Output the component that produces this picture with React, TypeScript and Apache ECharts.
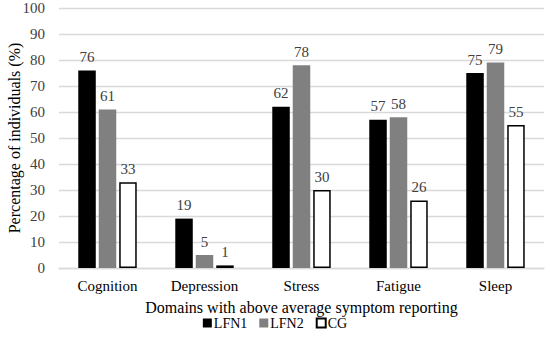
import React, { useEffect, useRef } from "react";
import * as echarts from "echarts";

const categories = ["Cognition", "Depression", "Stress", "Fatigue", "Sleep"];
const lfn1 = [76, 19, 62, 57, 75];
const lfn2 = [61, 5, 78, 58, 79];
const cg = [33, 1, 30, 26, 55];
const yTicks = { min: 0, max: 100, interval: 10 };

const FONT = "Liberation Serif, Times New Roman, serif";

export default function App() {
  const ref = useRef<HTMLDivElement>(null);
  useEffect(() => {
    if (!ref.current) return;
    const chart = echarts.init(ref.current, null, { renderer: "svg" });
    const label = {
      show: true,
      position: "top" as const,
      distance: 6,
      color: "#404040",
      fontFamily: FONT,
      fontSize: 15,
    };
    chart.setOption({
      animation: false,
      textStyle: { fontFamily: FONT },
      grid: { left: 59, right: 6, top: 8, bottom: 74, containLabel: false, outerBoundsMode: "none" },
      legend: {
        bottom: 7,
        left: "center",
        itemWidth: 9,
        itemHeight: 9,
        itemGap: 12,
        icon: "rect",
        textStyle: { fontFamily: FONT, fontSize: 14, color: "#000", padding: [0, 0, 0, -3] },
        data: ["LFN1", "LFN2", "CG"],
      },
      xAxis: {
        type: "category",
        data: categories,
        name: "Domains with above average symptom reporting",
        nameLocation: "middle",
        nameGap: 31,
        nameMoveOverlap: false,
        nameTextStyle: { fontFamily: FONT, fontSize: 16, color: "#000" },
        axisLine: { lineStyle: { color: "#d9d9d9", width: 1.3 } },
        axisTick: { show: false },
        axisLabel: { fontFamily: FONT, fontSize: 15, color: "#000", margin: 10 },
      },
      yAxis: {
        type: "value",
        min: yTicks.min,
        max: yTicks.max,
        interval: yTicks.interval,
        name: "Percentage of individuals (%)",
        nameLocation: "middle",
        nameGap: 37,
        nameMoveOverlap: false,
        nameTextStyle: { fontFamily: FONT, fontSize: 16, color: "#000" },
        axisLabel: { fontFamily: FONT, fontSize: 15, color: "#404040", margin: 14 },
        splitLine: { lineStyle: { color: "#d9d9d9", width: 1.3 } },
        axisLine: { show: false },
        axisTick: { show: false },
      },
      series: [
        {
          name: "LFN1",
          type: "bar",
          data: lfn1,
          barWidth: 17.5,
          barGap: "17%",
          itemStyle: { color: "#000000" },
          label,
        },
        {
          name: "LFN2",
          type: "bar",
          data: lfn2,
          barWidth: 17.5,
          itemStyle: { color: "#808080" },
          label,
        },
        {
          name: "CG",
          type: "bar",
          data: cg,
          barWidth: 17.5,
          itemStyle: { color: "#ffffff", borderColor: "#000000", borderWidth: 1.5 },
          label,
        },
      ],
    });
    return () => chart.dispose();
  }, []);
  return (
    <div
      ref={ref}
      style={{ position: "absolute", left: 0, top: 0, width: 550, height: 342 }}
    />
  );
}
